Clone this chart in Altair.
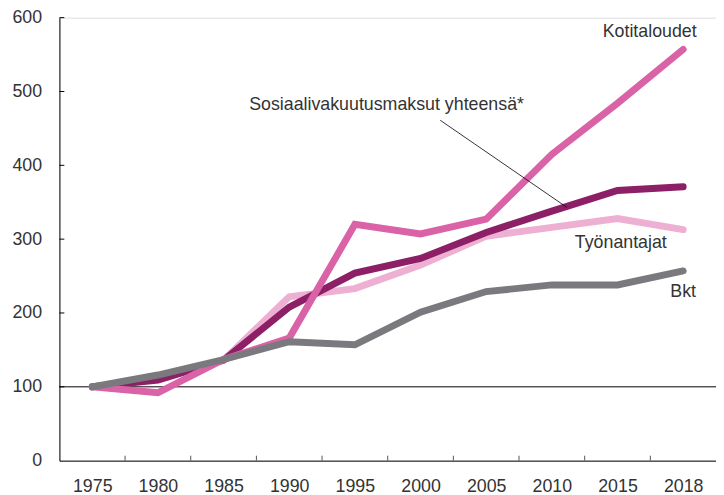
import json
import altair as alt
import pandas as pd

years = ["1975", "1980", "1985", "1990", "1995", "2000", "2005", "2010", "2015", "2018"]
kotitaloudet = [100, 92, 137, 166, 320, 307, 327, 415, 484, 557]
sosiaali = [100, 109, 136, 208, 254, 274, 309, 338, 366, 371]
tyonantajat = [100, 110, 136, 222, 233, 265, 304, 316, 328, 313]
bkt = [100, 116, 137, 161, 157, 201, 229, 238, 238, 257]

y_ticks = [0, 100, 200, 300, 400, 500, 600]

FONT = "Liberation Sans"
TXT = "#333333"

idx = list(range(len(years)))
xs = alt.Scale(domain=[-0.5, len(years) - 0.5], nice=False, zero=False)
ys = alt.Scale(domain=[0, 600], nice=False, zero=True)

x_axis = alt.Axis(values=idx, labelExpr=json.dumps(years) + "[datum.value]",
                  ticks=False, grid=False, domainColor="black", domainWidth=1,
                  labelFontSize=18, labelColor=TXT, labelFont=FONT, labelPadding=17,
                  title=None, labelAngle=0)
y_axis = alt.Axis(values=y_ticks, ticks=False, grid=False, domainColor="black", domainWidth=1,
                  labelFontSize=18, labelColor=TXT, labelFont=FONT, labelPadding=18,
                  title=None)


def X(field):
    return alt.X(field, scale=xs, axis=x_axis)


def Y(field):
    return alt.Y(field, scale=ys, axis=y_axis)


series = [
    ("Työnantajat", tyonantajat, "#eeb0d2"),
    ("Sosiaalivakuutusmaksut yhteensä", sosiaali, "#8c1f65"),
    ("Kotitaloudet", kotitaloudet, "#da62a6"),
    ("Bkt", bkt, "#7a7a7e"),
]

layers = []

# horizontal reference rule at 100
ref_df = pd.DataFrame({"x": [-0.5], "x2": [len(years) - 0.5], "y": [100]})
layers.append(alt.Chart(ref_df).mark_rule(color="black", strokeWidth=1).encode(
    x=X("x:Q"), x2="x2:Q", y=Y("y:Q")))

for name, vals, col in series:
    df = pd.DataFrame({"x": idx, "y": vals, "s": name})
    layers.append(alt.Chart(df).mark_line(color=col, strokeWidth=7, strokeCap="round",
                                          strokeJoin="miter").encode(
        x=X("x:Q"), y=Y("y:Q")))

# inside ticks on x axis (band edges)
xt_df = pd.DataFrame({"x": [i + 0.5 for i in idx[:-1]], "y": 0, "y2": 6.7})
layers.append(alt.Chart(xt_df).mark_rule(color="#555555", strokeWidth=1).encode(
    x=X("x:Q"), y=Y("y:Q"), y2="y2:Q"))

# inside ticks on y axis
yt_df = pd.DataFrame({"x": -0.5, "x2": -0.425, "y": y_ticks[1:]})
layers.append(alt.Chart(yt_df).mark_rule(color="black", strokeWidth=1).encode(
    x=X("x:Q"), x2="x2:Q", y=Y("y:Q")))

# leader line for annotation
lead_df = pd.DataFrame({"x": [5.30], "x2": [7.23], "y": [461], "y2": [343]})
layers.append(alt.Chart(lead_df).mark_rule(color="black", strokeWidth=0.8).encode(
    x=X("x:Q"), x2="x2:Q", y=Y("y:Q"), y2="y2:Q"))

# labels
lab_df = pd.DataFrame({
    "t": ["Kotitaloudet", "Työnantajat", "Bkt"],
    "x": [8.49, 8.05, 9.0],
    "y": [581, 295, 229],
})
layers.append(alt.Chart(lab_df).mark_text(font=FONT, fontSize=18, color=TXT,
                                          align="center", baseline="middle").encode(
    x=X("x:Q"), y=Y("y:Q"), text="t:N"))

ann_df = pd.DataFrame({"t": ["Sosiaalivakuutusmaksut yhteensä*"], "x": [2.39], "y": [482]})
layers.append(alt.Chart(ann_df).mark_text(font=FONT, fontSize=18, color=TXT,
                                          align="left", baseline="middle").encode(
    x=X("x:Q"), y=Y("y:Q"), text="t:N"))

chart = alt.layer(*layers).properties(
    width=664, height=448,
    autosize=alt.AutoSizeParams(type="none"),
    padding={"left": 52, "top": 7, "right": 0, "bottom": 34},
).configure_view(stroke=None).configure(background="white")

chart.save("out.html", embed_options={"renderer": "svg", "actions": False})
